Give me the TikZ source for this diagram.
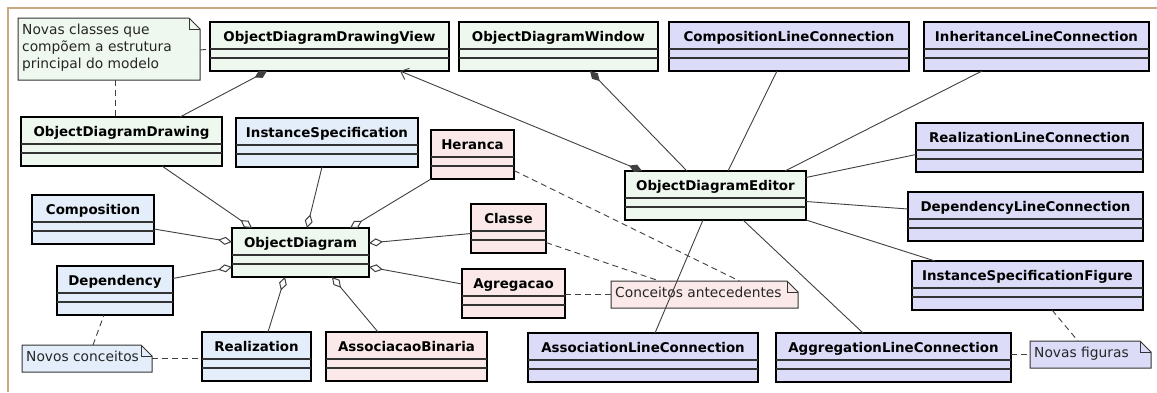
\documentclass[tikz,border=0pt]{standalone}
\usepackage{fontspec}
\setmainfont{DejaVu Sans}
\usetikzlibrary{arrows.meta, calc}

\definecolor{greenfill}{HTML}{EFF8EF}
\definecolor{bluefill}{HTML}{E4EEFA}
\definecolor{pinkfill}{HTML}{FBE9E9}
\definecolor{lilacfill}{HTML}{DCDCF8}
\definecolor{framecol}{HTML}{C9A882}
\definecolor{linkcol}{HTML}{404040}

\tikzset{
  classbox/.style={draw=black, line width=2pt, minimum height=49pt, inner sep=0pt, outer sep=0pt, anchor=north west},
  classname/.style={font=\fontsize{13.4}{15}\selectfont\bfseries, anchor=base, inner sep=0pt},
  compline/.style={draw=black!80, line width=1.3pt},
  notebox/.style={draw=none, inner sep=0pt, outer sep=0pt, anchor=north west},
  noteline/.style={draw=black!80, line width=1pt},
  notetext/.style={font=\fontsize{13.8}{16.7}\selectfont, text=black!85, align=left, anchor=north west, inner sep=0pt},
  link/.style={draw=linkcol, line width=0.9pt},
  notelink/.style={draw=linkcol, line width=0.9pt, dash pattern=on 6pt off 4pt},
  aggr/.style={link, {Diamond[open, length=14pt, width=8pt, line width=1pt]}-},
  comp/.style={link, {Diamond[length=14pt, width=8pt]}-},
}

% class box: name, colour, left, top, width, label
\newcommand{\umlclass}[6]{%
  \node[classbox, fill=#2, minimum width=#5pt] (#1) at (#3,#4) {};
  \node[classname] (#1-name) at ([yshift=-19pt]#1.north) {#6};
  \draw[compline] ([yshift=-27pt]#1.north west) -- ([yshift=-27pt]#1.north east);
  \draw[compline] ([yshift=-36pt]#1.north west) -- ([yshift=-36pt]#1.north east);
}
% note: name, colour, left, top, width, height, text
\newcommand{\umlnote}[7]{%
  \node[notebox, fill=#2, minimum width=#5pt, minimum height=#6pt] (#1) at (#3,#4) {};
  \fill[white] ([xshift=-11pt]#1.north east) -- ([xshift=1pt,yshift=1pt]#1.north east) -- ([yshift=-11pt]#1.north east) -- cycle;
  \draw[noteline] (#1.north west) -- ([xshift=-11pt]#1.north east) -- ([yshift=-11pt]#1.north east) -- (#1.south east) -- (#1.south west) -- cycle;
  \draw[noteline] ([xshift=-11pt]#1.north east) |- ([yshift=-11pt]#1.north east);
  \node[notetext] (#1-text) at ([xshift=4pt,yshift=-6pt]#1.north west) {#7};
}

\begin{document}
\begin{tikzpicture}[x=1pt, y=-1pt]
    \useasboundingbox (0,0) rectangle (1157,392);
    \fill[white] (0,0) rectangle (1157,392);
    \draw[framecol, line width=1.5pt] (8,392) -- (8,8) -- (1157,8);

    % Editor classes
    \umlclass{oddv}{greenfill}{210}{22}{239}{ObjectDiagramDrawingView}
    \umlclass{odw}{greenfill}{459}{22}{199}{ObjectDiagramWindow}
    \umlclass{odd}{greenfill}{21}{117}{201}{ObjectDiagramDrawing}
    \umlclass{od}{greenfill}{232}{228}{137}{ObjectDiagram}
    \umlclass{ode}{greenfill}{625}{171}{181}{ObjectDiagramEditor}

    % New concepts
    \umlclass{is}{bluefill}{236}{118}{182}{InstanceSpecification}
    \umlclass{comp}{bluefill}{32}{195}{122}{Composition}
    \umlclass{dep}{bluefill}{57}{266}{116}{Dependency}
    \umlclass{rea}{bluefill}{202}{332}{109}{Realization}

    % Previous concepts
    \umlclass{her}{pinkfill}{431}{130}{83}{Heranca}
    \umlclass{cls}{pinkfill}{471}{204}{75}{Classe}
    \umlclass{agr}{pinkfill}{462}{269}{103}{Agregacao}
    \umlclass{ab}{pinkfill}{326}{332}{161}{AssociacaoBinaria}

    % Figures
    \umlclass{clc}{lilacfill}{669}{22}{240}{CompositionLineConnection}
    \umlclass{ilc}{lilacfill}{924}{22}{225}{InheritanceLineConnection}
    \umlclass{rlc}{lilacfill}{916}{123}{227}{RealizationLineConnection}
    \umlclass{dlc}{lilacfill}{908}{192}{235}{DependencyLineConnection}
    \umlclass{isf}{lilacfill}{912}{261}{231}{InstanceSpecificationFigure}
    \umlclass{alc}{lilacfill}{528}{333}{230}{AssociationLineConnection}
    \umlclass{aglc}{lilacfill}{776}{333}{235}{AggregationLineConnection}

    % Notes
    \umlnote{nclasses}{greenfill}{18}{18}{182}{62}{Novas classes que\\compõem a estrutura\\principal do modelo}
    \umlnote{nnovos}{bluefill}{22}{345}{130}{27}{Novos conceitos}
    \umlnote{nantes}{pinkfill}{611}{281}{187}{27}{Conceitos antecedentes}
    \umlnote{nfig}{lilacfill}{1030}{341}{121}{27}{Novas figuras}

    % Compositions
    \draw[comp] ([xshift=-62.5pt]oddv.south) -- ([xshift=58.5pt]odd.north);
    \draw[link, {Diamond[length=14pt, width=8pt]}-{Straight Barb[length=7pt, width=12pt]}] ([xshift=-73.5pt]ode.north) -- ([xshift=70.5pt]oddv.south);
    \draw[comp] ([xshift=31.5pt]odw.south) -- ([xshift=-28.5pt]ode.north);

    % Aggregations of ObjectDiagram
    \draw[aggr] ([xshift=-48.5pt]od.north) -- ([xshift=40.5pt]odd.south);
    \draw[aggr] ([xshift=6.5pt]od.north) -- ([xshift=-5pt]is.south);
    \draw[aggr] ([xshift=49.5pt]od.north) -- (her.south west);
    \draw[aggr] ([yshift=10.5pt]od.west) -- ([yshift=-9.5pt]comp.east);
    \draw[aggr] ([yshift=-14.5pt]od.west) -- ([yshift=12pt]dep.east);
    \draw[aggr] ([yshift=9.5pt]od.east) -- ([yshift=-5pt]cls.west);
    \draw[aggr] ([yshift=-14.5pt]od.east) -- ([yshift=9.5pt]agr.west);
    \draw[aggr] ([xshift=-15.5pt]od.south) -- ([xshift=11.5pt]rea.north);
    \draw[aggr] ([xshift=31.5pt]od.south) -- ([xshift=-28.5pt]ab.north);

    % Editor and figures
    \draw[link] ([xshift=-12pt]clc.south) -- ([xshift=12.5pt]ode.north);
    \draw[link] ([xshift=-54.5pt]ilc.south) -- ([xshift=-21pt]ode.north east);
    \draw[link] ([yshift=-7pt]rlc.west) -- ([yshift=18pt]ode.east);
    \draw[link] ([yshift=7.5pt]dlc.west) -- ([yshift=-6pt]ode.east);
    \draw[link] ([xshift=-92.5pt]isf.north) -- (ode.south east);
    \draw[link] ([xshift=12pt]alc.north) -- ([xshift=-12.5pt]ode.south);
    \draw[link] ([xshift=-30.5pt]aglc.north) -- ([xshift=27.5pt]ode.south);

    % Note links
    \draw[notelink] ([yshift=-1pt]nclasses.east) -- (nclasses.east -| oddv.west);
    \draw[notelink] ([xshift=6pt]nclasses.south) -- ([xshift=-6.5pt]odd.north);
    \draw[notelink] ([xshift=6pt]nnovos.north) -- ([xshift=-11pt]dep.south);
    \draw[notelink] (nnovos.east) -- (nnovos.east -| rea.west);
    \draw[notelink] ([yshift=-16pt]her.east) -- ([xshift=35pt]nantes.north);
    \draw[notelink] ([yshift=-14pt]cls.east) -- ([xshift=-45pt]nantes.north);
    \draw[notelink] (agr.east |- nantes.west) -- (nantes.west);
    \draw[notelink] (aglc.east |- nfig.west) -- (nfig.west);
    \draw[notelink] ([xshift=24.5pt]isf.south) -- ([xshift=-12.5pt]nfig.north);
\end{tikzpicture}
\end{document}
